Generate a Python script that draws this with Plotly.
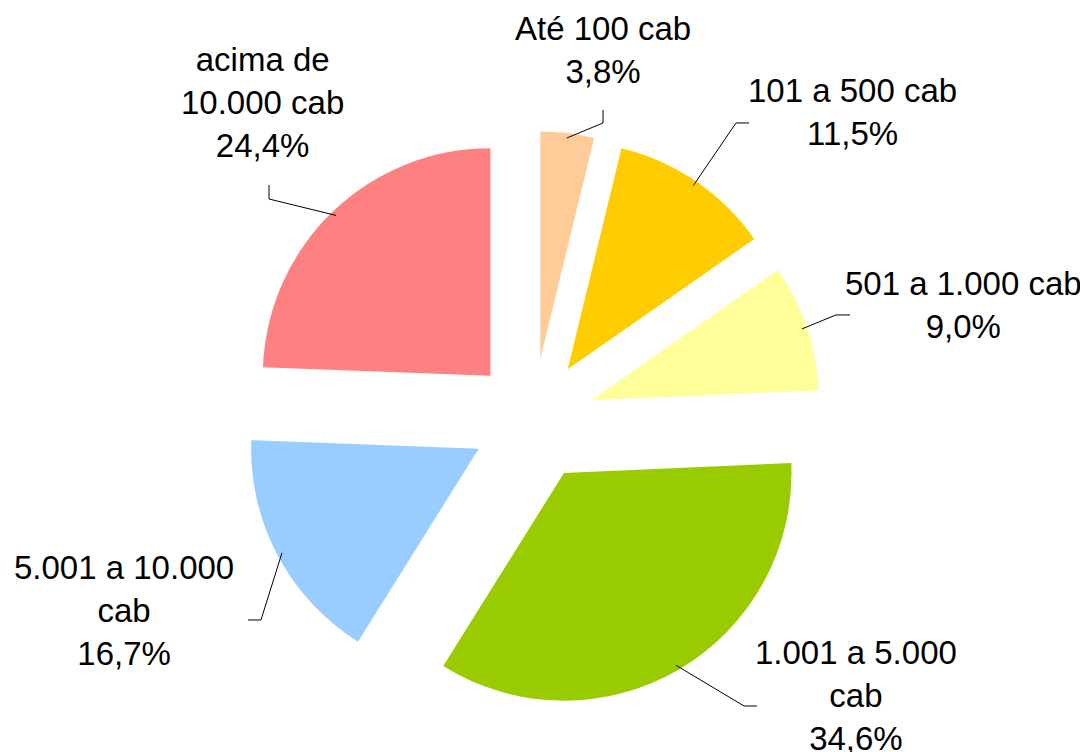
import math
import plotly.graph_objects as go

# slices, clockwise from 12 o'clock
categories = ["Até 100 cab", "101 a 500 cab", "501 a 1.000 cab",
              "1.001 a 5.000 cab", "5.001 a 10.000 cab", "acima de 10.000 cab"]
values = [3.8, 11.5, 9.0, 34.6, 16.7, 24.4]
label_text = ["Até 100 cab", "101 a 500 cab", "501 a 1.000 cab",
              "1.001 a 5.000<br>cab", "5.001 a 10.000<br>cab", "acima de<br>10.000 cab"]
colors = ["#FFCC99", "#FFCC00", "#FFFF99", "#99CC00", "#99CCFF", "#FF8080"]

W, H = 1088, 752
PULL = 0.27
CX, CY, HALF = 525, 412, 289   # pie box centre and half size, px

# label block centres and leader elbow/end points, px
label_pos = [(595, 42), (844, 104), (955, 297), (848, 687), (116, 602), (254, 94)]
leader_pts = [[(595, 115), (595, 102)], [(728, 115), (741, 115)],
              [(828, 307), (842, 307)], [(736, 698), (749, 698)],
              [(253, 612), (240, 612)], [(261, 191), (261, 177)]]


def px(x, y):
    return x / W, 1 - y / H


fig = go.Figure(go.Pie(
    labels=categories, values=values, sort=False, direction="clockwise", rotation=0,
    pull=[PULL] * len(values), textinfo="none", hoverinfo="label+percent",
    marker=dict(colors=colors, line=dict(width=0)),
    domain=dict(x=[(CX - HALF) / W, (CX + HALF) / W],
                y=[1 - (CY + HALF) / H, 1 - (CY - HALF) / H]),
    showlegend=False,
))

total = sum(values)
cum = 0
shapes, annotations = [], []
for i, v in enumerate(values):
    mid = (cum + v / 2) / total * 2 * math.pi
    cum += v
    # point on the outer arc of the pulled slice
    sx = CX + (HALF - 5) * math.sin(mid)
    sy = CY - (HALF - 5) * math.cos(mid)
    pts = [(sx, sy)] + leader_pts[i]
    path = "M " + " L ".join("%.4f,%.4f" % px(x, y) for x, y in pts)
    shapes.append(dict(type="path", xref="paper", yref="paper", path=path,
                       line=dict(color="#000000", width=1)))
    lx, ly = px(*label_pos[i])
    pct = ("%.1f%%" % v).replace(".", ",")
    annotations.append(dict(x=lx, y=ly, xref="paper", yref="paper",
                            text=label_text[i] + "<br>" + pct, showarrow=False,
                            xanchor="center", yanchor="middle", align="center",
                            font=dict(family="Liberation Sans, Arial", size=33, color="#000000")))

fig.update_layout(width=W, height=H, margin=dict(l=0, r=0, t=0, b=0),
                  paper_bgcolor="white", plot_bgcolor="white",
                  shapes=shapes, annotations=annotations)

fig.write_html("out.html")
